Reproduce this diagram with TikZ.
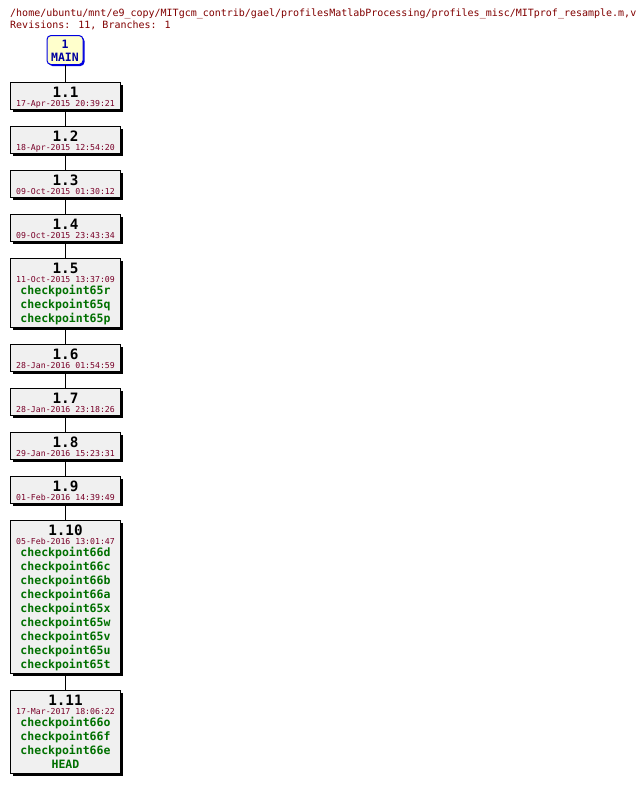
\documentclass[tikz,border=0pt]{standalone}
\usepackage{fontspec}
\setmainfont{DejaVu Sans Mono}
\usetikzlibrary{shadows}
\definecolor{pathred}{HTML}{800000}
\definecolor{datered}{HTML}{780028}
\definecolor{taggreen}{HTML}{007000}
\definecolor{boxgray}{HTML}{F0F0F0}
\definecolor{mainfill}{HTML}{FFFFCC}
\definecolor{mainborder}{HTML}{0000E0}
\definecolor{maintext}{HTML}{0000A0}
\tikzset{
  revbox/.style={draw=black, line width=1pt, fill=boxgray, minimum width=110pt,
    inner sep=0pt, anchor=north,
    general shadow={fill=black, shadow xshift=2pt, shadow yshift=-2pt}},
  mainbox/.style={draw=mainborder, line width=1pt, fill=mainfill, rounded corners=4pt,
    minimum width=36pt, minimum height=29pt, inner sep=0pt, anchor=north,
    general shadow={fill=mainborder, shadow xshift=1.5pt, shadow yshift=-1.5pt}},
  revtitle/.style={anchor=base, inner sep=0pt, font=\bfseries\fontsize{14.3}{14}\selectfont},
  revdate/.style={anchor=base, inner sep=0pt, text=datered, font=\fontsize{8.2}{8}\selectfont},
  tagtext/.style={anchor=base, inner sep=0pt, text=taggreen, font=\bfseries\fontsize{11.5}{11}\selectfont},
  maintxt/.style={anchor=base, inner sep=0pt, text=maintext, font=\bfseries\fontsize{11.5}{11}\selectfont},
  headtext/.style={anchor=base west, inner sep=0pt, text=pathred, font=\fontsize{10}{10}\selectfont},
  conn/.style={draw=black, line width=1pt}
}
\newcommand\revnode[5]{%
  \node[revbox, minimum height=#3pt] (#1) at (65.5,#2) {};
  \node[revtitle] (#1t) at (65.5,{#2+15}) {#4};
  \node[revdate] (#1d) at (65.5,{#2+24}) {#5};
}
\newcommand\tagat[4]{%
  \node[tagtext] (#1) at (65.5,{#2+36+14*#3}) {#4};
}
\begin{document}
\begin{tikzpicture}[x=1pt,y=-1pt]
\useasboundingbox (0,0) rectangle (644,785);
\node[headtext] (path) at (10,16) {/home/ubuntu/mnt/e9\_copy/MITgcm\_contrib/gael/profilesMatlabProcessing/profiles\_misc/MITprof\_resample.m,v};
\node[headtext] (revs) at (10,28) {Revisions: 11, Branches: 1};

\node[mainbox] (main) at (65,35) {};
\node[maintxt] (mainnum) at (65,48) {1};
\node[maintxt] (mainname) at (65,61) {MAIN};

\revnode{r1}{82}{27}{1.1}{17-Apr-2015 20:39:21}
\revnode{r2}{126}{27}{1.2}{18-Apr-2015 12:54:20}
\revnode{r3}{170}{27}{1.3}{09-Oct-2015 01:30:12}
\revnode{r4}{214}{27}{1.4}{09-Oct-2015 23:43:34}
\revnode{r5}{258}{69}{1.5}{11-Oct-2015 13:37:09}
\tagat{t5a}{258}{0}{checkpoint65r}
\tagat{t5b}{258}{1}{checkpoint65q}
\tagat{t5c}{258}{2}{checkpoint65p}
\revnode{r6}{344}{27}{1.6}{28-Jan-2016 01:54:59}
\revnode{r7}{388}{27}{1.7}{28-Jan-2016 23:18:26}
\revnode{r8}{432}{27}{1.8}{29-Jan-2016 15:23:31}
\revnode{r9}{476}{27}{1.9}{01-Feb-2016 14:39:49}
\revnode{r10}{520}{153}{1.10}{05-Feb-2016 13:01:47}
\tagat{t10a}{520}{0}{checkpoint66d}
\tagat{t10b}{520}{1}{checkpoint66c}
\tagat{t10c}{520}{2}{checkpoint66b}
\tagat{t10d}{520}{3}{checkpoint66a}
\tagat{t10e}{520}{4}{checkpoint65x}
\tagat{t10f}{520}{5}{checkpoint65w}
\tagat{t10g}{520}{6}{checkpoint65v}
\tagat{t10h}{520}{7}{checkpoint65u}
\tagat{t10i}{520}{8}{checkpoint65t}
\revnode{r11}{690}{83}{1.11}{17-Mar-2017 18:06:22}
\tagat{t11a}{690}{0}{checkpoint66o}
\tagat{t11b}{690}{1}{checkpoint66f}
\tagat{t11c}{690}{2}{checkpoint66e}
\tagat{t11d}{690}{3}{HEAD}

\draw[conn] (main.south) -- (main.south |- r1.north);
\draw[conn] (r1.south) -- (r2.north);
\draw[conn] (r2.south) -- (r3.north);
\draw[conn] (r3.south) -- (r4.north);
\draw[conn] (r4.south) -- (r5.north);
\draw[conn] (r5.south) -- (r6.north);
\draw[conn] (r6.south) -- (r7.north);
\draw[conn] (r7.south) -- (r8.north);
\draw[conn] (r8.south) -- (r9.north);
\draw[conn] (r9.south) -- (r10.north);
\draw[conn] (r10.south) -- (r11.north);
\end{tikzpicture}
\end{document}
